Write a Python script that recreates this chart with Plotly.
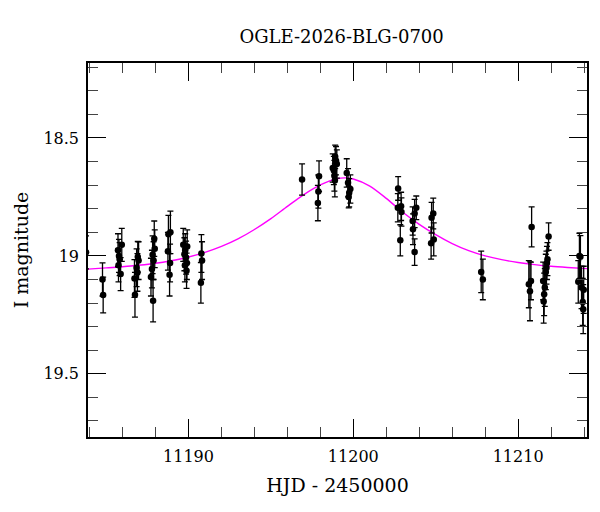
import plotly.graph_objects as go

# photometry (HJD - 2450000, I mag, error)
hjd = [
    11183.78,
    11184.78, 11184.82,
    11185.72, 11185.78, 11185.82, 11185.95, 11185.88, 11185.75,
    11186.75, 11186.72, 11186.90, 11186.85, 11186.97, 11186.92,
    11187.85, 11187.72, 11187.78, 11187.82, 11187.95, 11187.92, 11187.88,
    11188.90, 11188.78, 11188.75, 11188.88, 11188.85,
    11189.68, 11189.92, 11189.80, 11189.75, 11189.85, 11189.90, 11189.78, 11189.88,
    11190.78, 11190.82, 11190.75,
    11196.89,
    11197.92, 11197.88, 11197.85,
    11198.90, 11198.95, 11199.00, 11198.75, 11198.82, 11198.85, 11198.88,
    11199.60, 11199.68, 11199.82, 11199.75, 11199.72,
    11202.72, 11202.70, 11202.90, 11202.92, 11202.85,
    11203.82, 11203.72, 11203.60, 11203.62, 11203.72,
    11204.85, 11204.75, 11204.88, 11204.72,
    11207.76, 11207.86,
    11210.82, 11210.78, 11210.65, 11210.72,
    11211.85, 11211.78, 11211.75, 11211.72, 11211.68, 11211.52, 11211.62, 11211.58, 11211.55,
    11213.72, 11213.78, 11213.65, 11213.85, 11213.98, 11213.92, 11213.95,
]
mag = [
    18.985,
    19.100, 19.166,
    18.976, 19.000, 19.014, 18.953, 19.077, 19.040,
    19.165, 19.096, 19.070, 19.050, 19.020, 19.004,
    19.190, 19.090, 19.056, 18.995, 18.970, 18.927, 19.020,
    18.900, 18.908, 18.980, 19.030, 19.080,
    18.953, 18.960, 18.976, 18.993, 19.007, 19.030, 19.040, 19.063,
    18.990, 19.020, 19.114,
    18.676,
    18.662, 18.727, 18.776,
    18.580, 18.596, 18.610, 18.627, 18.638, 18.660, 18.680,
    18.648, 18.690, 18.716, 18.732, 18.750,
    18.714, 18.796, 18.790, 18.814, 18.934,
    18.796, 18.820, 18.852, 18.887, 18.984,
    18.820, 18.838, 18.930, 18.946,
    19.068, 19.100,
    18.877, 19.106, 19.120, 19.150,
    18.918, 19.014, 19.030, 19.050, 19.068, 19.106, 19.134, 19.163, 19.193,
    19.000, 19.004, 19.110, 19.134, 19.144, 19.195, 19.226,
]
mag_err = [
    0.070,
    0.070, 0.076,
    0.070, 0.070, 0.070, 0.070, 0.070, 0.070,
    0.095, 0.080, 0.080, 0.080, 0.080, 0.065,
    0.090, 0.080, 0.080, 0.080, 0.080, 0.075, 0.080,
    0.090, 0.080, 0.080, 0.080, 0.090,
    0.070, 0.070, 0.070, 0.070, 0.070, 0.070, 0.070, 0.075,
    0.080, 0.080, 0.086,
    0.066,
    0.065, 0.070, 0.075,
    0.050, 0.060, 0.060, 0.060, 0.060, 0.065, 0.070,
    0.060, 0.060, 0.060, 0.060, 0.046,
    0.050, 0.060, 0.060, 0.060, 0.066,
    0.050, 0.060, 0.060, 0.065, 0.056,
    0.065, 0.065, 0.070, 0.068,
    0.088, 0.086,
    0.085, 0.080, 0.100, 0.125,
    0.058, 0.070, 0.070, 0.070, 0.075, 0.080, 0.080, 0.090, 0.092,
    0.096, 0.090, 0.090, 0.090, 0.100, 0.100, 0.104,
]

# model curve
model_hjd = [11183.9, 11185, 11186.5, 11188, 11189.5, 11191, 11192, 11193, 11194,
             11195, 11196, 11197, 11198, 11199, 11199.5, 11200, 11201, 11202,
             11203, 11204, 11205, 11206, 11207, 11208, 11209, 11210, 11211,
             11212, 11213, 11214.2]
model_mag = [19.056, 19.051, 19.043, 19.031, 19.013, 18.985, 18.960, 18.928, 18.888,
             18.842, 18.790, 18.740, 18.699, 18.673, 18.669, 18.674, 18.704, 18.756,
             18.815, 18.866, 18.910, 18.948, 18.978, 19.000, 19.016, 19.028, 19.037,
             19.044, 19.049, 19.054]

font = "DejaVu Serif"

fig = go.Figure()
fig.add_trace(go.Scatter(
    x=model_hjd, y=model_mag, mode="lines",
    line=dict(color="#ff00ff", width=1.4, shape="spline", smoothing=0.8),
    hoverinfo="skip",
))
fig.add_trace(go.Scatter(
    x=hjd, y=mag, mode="markers",
    marker=dict(color="black", size=6.5),
    error_y=dict(type="data", array=mag_err, color="black", thickness=1.3, width=3),
))

# page body adds an 8px margin, so the figure is sized to fit 600x512 exactly
fig.update_layout(
    width=592, height=504,
    margin=dict(l=80, r=13, t=55, b=75),
    paper_bgcolor="white", plot_bgcolor="white",
    showlegend=False,
    font=dict(family=font, size=16, color="black"),
    title=dict(text="OGLE-2026-BLG-0700", x=0.5635, xanchor="center",
               y=1 - 29 / 504, yanchor="middle", yref="container",
               font=dict(family=font, size=18, color="black")),
)
fig.update_xaxes(
    range=[11183.9, 11214.18],
    tickvals=[11190, 11200, 11210], tickformat="d",
    ticks="inside", ticklen=18, tickwidth=1.2, tickcolor="black",
    minor=dict(dtick=2, tick0=11184, ticks="inside", ticklen=10, tickwidth=1, tickcolor="#444"),
    showline=True, linecolor="black", linewidth=1.5, mirror="ticks",
    showgrid=False, zeroline=False,
    ticklabelstandoff=4,
    title=dict(text="HJD - 2450000", standoff=14),
)
fig.update_yaxes(
    range=[19.768, 18.182],
    tickvals=[18.5, 19, 19.5], ticktext=["18.5", "19", "19.5"],
    ticks="inside", ticklen=18, tickwidth=1.2, tickcolor="black",
    minor=dict(dtick=0.1, tick0=18.2, ticks="inside", ticklen=10, tickwidth=1, tickcolor="#444"),
    showline=True, linecolor="black", linewidth=1.5, mirror="ticks",
    showgrid=False, zeroline=False,
    ticklabelstandoff=4,
    title=dict(text="I magnitude", standoff=10),
)

fig.write_html("out.html")
